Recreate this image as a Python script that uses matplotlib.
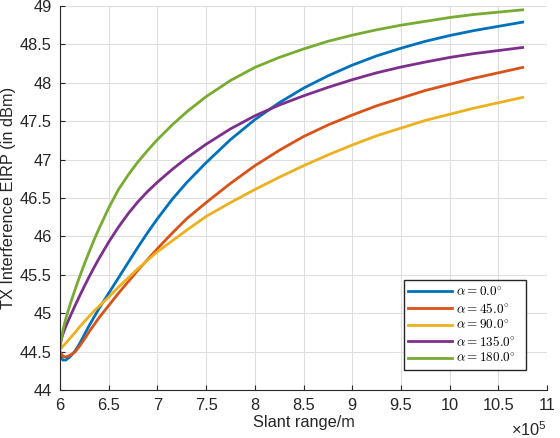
import numpy as np
import matplotlib
matplotlib.use("Agg")
import matplotlib.pyplot as plt
from matplotlib.ticker import FuncFormatter

plt.rcParams['font.family'] = ['Liberation Sans', 'DejaVu Sans']
plt.rcParams['mathtext.fontset'] = 'cm'

# slant range in units of 1e5 m
slant_range = [6.0, 6.03, 6.06, 6.1, 6.15, 6.2, 6.25, 6.3, 6.35, 6.4, 6.5, 6.6, 6.7, 6.8, 6.9,
               7.0, 7.15, 7.3, 7.5, 7.75, 8.0, 8.25, 8.5, 8.75, 9.0, 9.25, 9.5, 9.75, 10.0,
               10.25, 10.5, 10.75]

eirp_a0 = [44.45, 44.39, 44.39, 44.43, 44.50, 44.60, 44.72, 44.84, 44.95, 45.06, 45.26, 45.46,
           45.66, 45.86, 46.05, 46.23, 46.48, 46.70, 46.96, 47.26, 47.52, 47.74, 47.93, 48.09,
           48.23, 48.35, 48.45, 48.54, 48.615, 48.68, 48.735, 48.79]
eirp_a45 = [44.50, 44.44, 44.43, 44.45, 44.49, 44.57, 44.66, 44.76, 44.85, 44.94, 45.10, 45.26,
            45.41, 45.56, 45.70, 45.84, 46.04, 46.23, 46.44, 46.69, 46.92, 47.12, 47.30, 47.45,
            47.58, 47.70, 47.80, 47.90, 47.98, 48.06, 48.13, 48.20]
eirp_a90 = [44.53, 44.57, 44.61, 44.67, 44.74, 44.82, 44.89, 44.96, 45.03, 45.09, 45.21, 45.34,
            45.46, 45.58, 45.69, 45.80, 45.94, 46.08, 46.26, 46.44, 46.61, 46.77, 46.92, 47.06,
            47.19, 47.31, 47.41, 47.51, 47.59, 47.67, 47.74, 47.81]
eirp_a135 = [44.60, 44.73, 44.83, 44.946, 45.086, 45.221, 45.351, 45.476, 45.596, 45.711, 45.926,
             46.121, 46.296, 46.451, 46.586, 46.706, 46.87, 47.02, 47.20, 47.40, 47.57, 47.71,
             47.83, 47.94, 48.04, 48.13, 48.205, 48.27, 48.33, 48.38, 48.42, 48.46]
eirp_a180 = [44.54, 44.78, 44.93, 45.10, 45.29, 45.47, 45.64, 45.80, 45.955, 46.10, 46.37, 46.61,
             46.80, 46.97, 47.12, 47.26, 47.45, 47.62, 47.82, 48.03, 48.20, 48.33, 48.44, 48.54,
             48.62, 48.69, 48.75, 48.80, 48.85, 48.89, 48.92, 48.95]

labels = [r'$\alpha = 0.0^{\circ}$', r'$\alpha = 45.0^{\circ}$', r'$\alpha = 90.0^{\circ}$',
          r'$\alpha = 135.0^{\circ}$', r'$\alpha = 180.0^{\circ}$']
colors = ['#0072BD', '#D95319', '#EDB120', '#7E2F8E', '#77AC30']
series = [eirp_a0, eirp_a45, eirp_a90, eirp_a135, eirp_a180]

xticks = [6, 6.5, 7, 7.5, 8, 8.5, 9, 9.5, 10, 10.5, 11]
yticks = [44, 44.5, 45, 45.5, 46, 46.5, 47, 47.5, 48, 48.5, 49]

fig = plt.figure(figsize=(5.6, 4.38), dpi=100)
ax = fig.add_axes([60/560, 48/438, 487/560, 384/438])

for y, lab, c in zip(series, labels, colors):
    ax.plot(slant_range, y, color=c, lw=2.0, label=lab)

dark = '#262626'
ax.set_xlim(6, 11)
ax.set_ylim(44, 49)
ax.set_xticks(xticks)
ax.set_yticks(yticks)
fmt = FuncFormatter(lambda v, p: '%g' % v)
ax.xaxis.set_major_formatter(fmt)
ax.yaxis.set_major_formatter(fmt)
ax.grid(True, color='#dedede', lw=0.8)
ax.set_axisbelow(True)
ax.spines['top'].set_visible(False)
ax.spines['right'].set_visible(False)
for s in ['left', 'bottom']:
    ax.spines[s].set_color(dark)
    ax.spines[s].set_linewidth(0.8)
ax.tick_params(direction='in', length=3.5, width=0.8, color=dark, labelcolor=dark,
               labelsize=11.8, pad=6)
ax.set_xlabel('Slant range/m', fontsize=11.8, color=dark, labelpad=1)
ax.set_ylabel('TX Interference EIRP (in dBm)', fontsize=11.8, color=dark, labelpad=2.4)

ax.text(1.0, -0.103, r'$\mathregular{\times10^{5}}$', transform=ax.transAxes,
        ha='right', va='center', fontsize=11.8, color=dark)

leg = ax.legend(loc='lower left', bbox_to_anchor=(0.706, 0.052, 0.251, 0.229), mode='expand',
                borderaxespad=0, fontsize=9.5, handlelength=3.3, handletextpad=0.3,
                labelspacing=0.2, borderpad=0.35, fancybox=False, framealpha=1,
                edgecolor=dark)
leg.get_frame().set_linewidth(1.0)

fig.savefig('out.png', dpi=100, facecolor='white')
